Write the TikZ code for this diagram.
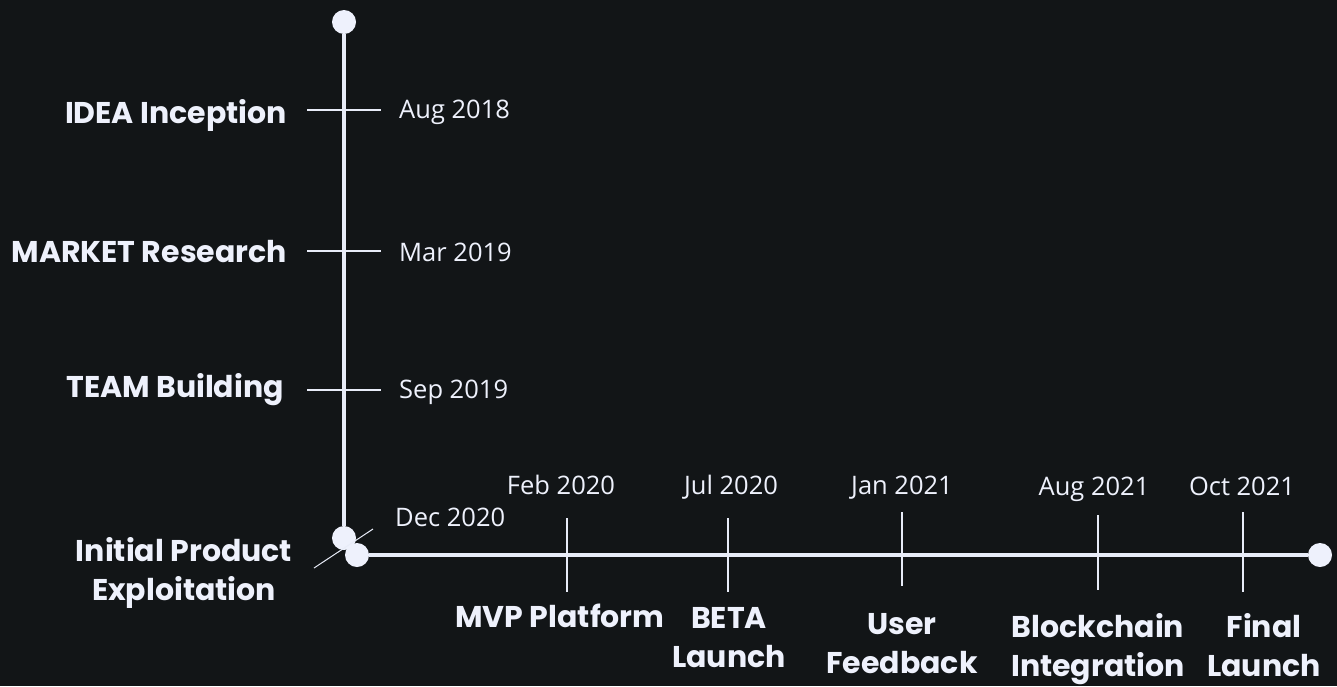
\documentclass[tikz,border=0pt]{standalone}
\usepackage{fontspec}
\setmainfont{Poppins}
\newfontfamily\datefont{Open Sans}
\usetikzlibrary{positioning}

\definecolor{bgdark}{HTML}{121517}
\definecolor{axiscol}{HTML}{E8ECF8}
\definecolor{dotcol}{HTML}{EEF1FC}

\begin{document}
\begin{tikzpicture}[
  x=1pt, y=-1pt,
  dot/.style={circle, fill=dotcol, draw=none, minimum size=24pt, inner sep=0pt},
  axis/.style={draw=axiscol, line width=4pt},
  tick/.style={draw=axiscol, line width=1.3pt},
  milestone/.style={text=dotcol, font=\fontsize{30}{39}\selectfont\bfseries, align=center, inner sep=0pt},
  date/.style={text=dotcol, font=\datefont\fontsize{25.5}{30}\selectfont, inner sep=0pt}
]

% Background
\fill[bgdark] (0,0) rectangle (1337,686);
\useasboundingbox (0,0) rectangle (1337,686);

% Axis dots
\node[dot] (vtop) at (344,22) {};
\node[dot] (vend) at (344,538) {};
\node[dot] (hstart) at (357,555) {};
\node[dot] (hend) at (1320,555) {};

% Axes
\draw[axis] (vtop) -- (vend);
\draw[axis] (hstart) -- (hend);

% Vertical axis: ticks, milestones, dates
\coordinate (t1a) at (307,110); \coordinate (t1b) at (381,110);
\coordinate (t2a) at (307,251); \coordinate (t2b) at (381,251);
\coordinate (t3a) at (307,390); \coordinate (t3b) at (381,390);
\draw[tick] (t1a) -- (t1b);
\draw[tick] (t2a) -- (t2b);
\draw[tick] (t3a) -- (t3b);

\node[milestone, anchor=base east] (idea) at (287,123) {IDEA Inception};
\node[milestone, anchor=base east] (market) at (287,262) {MARKET Research};
\node[milestone, anchor=base east] (team) at (284,397) {TEAM Building};

\node[date, anchor=base west] (d1) at (399,118) {Aug 2018};
\node[date, anchor=base west] (d2) at (399,261) {Mar 2019};
\node[date, anchor=base west] (d3) at (399,398) {Sep 2019};

% Corner milestone
\coordinate (t0a) at (314,568); \coordinate (t0b) at (373,529);
\draw[tick, line width=1pt] (t0a) -- (t0b);
\node[date, anchor=base west] (d0) at (395,526) {Dec 2020};
\node[milestone, anchor=base] (initial) at (184,600) {Initial Product\\Exploitation};

% Horizontal axis: ticks, dates, milestones
\coordinate (t4a) at (567,518); \coordinate (t4b) at (567,592);
\coordinate (t5a) at (728,518); \coordinate (t5b) at (728,592);
\coordinate (t6a) at (902,512); \coordinate (t6b) at (902,586);
\coordinate (t7a) at (1098,515); \coordinate (t7b) at (1098,590);
\coordinate (t8a) at (1243,512); \coordinate (t8b) at (1243,592);
\draw[tick] (t4a) -- (t4b);
\draw[tick] (t5a) -- (t5b);
\draw[tick] (t6a) -- (t6b);
\draw[tick] (t7a) -- (t7b);
\draw[tick] (t8a) -- (t8b);

\node[date, anchor=base] (d4) at (561,494) {Feb 2020};
\node[date, anchor=base] (d5) at (731,494) {Jul 2020};
\node[date, anchor=base] (d6) at (902,494) {Jan 2021};
\node[date, anchor=base] (d7) at (1094,495) {Aug 2021};
\node[date, anchor=base] (d8) at (1242,495) {Oct 2021};

\node[milestone, anchor=base] (mvp) at (560,627) {MVP Platform};
\node[milestone, anchor=base] (beta) at (729,667) {BETA\\Launch};
\node[milestone, anchor=base] (user) at (902,673) {User\\Feedback};
\node[milestone, anchor=base] (chain) at (1098,676) {Blockchain\\Integration};
\node[milestone, anchor=base] (final) at (1264,676) {Final\\Launch};

\end{tikzpicture}
\end{document}
